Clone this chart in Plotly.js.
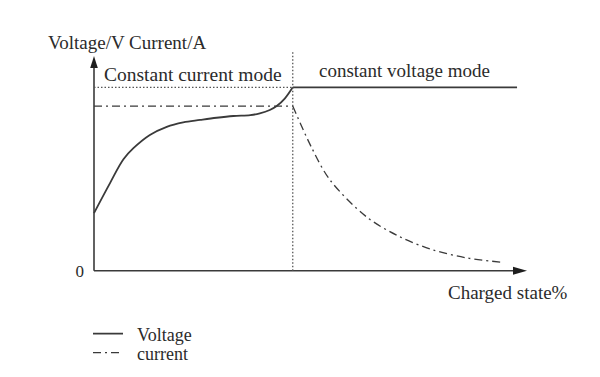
<!DOCTYPE html>
<html>
<head>
<meta charset="utf-8">
<script src="https://cdn.plot.ly/plotly-3.0.1.min.js"></script>
<style>html,body{margin:0;padding:0;background:#fff;}</style>
</head>
<body>
<div id="chart" style="width:600px;height:377px;"></div>
<script>
// ---- data (charged state % on x, relative level on y) ----
const voltageRiseX = [0, 3.7, 6.8, 9.1, 12.9, 16.8, 20.6, 24.5, 28.3, 32.2, 36.1, 38.3, 40.6, 42.2, 44.1, 45.9];
const voltageRiseY = [26.1, 39.7, 50.5, 55.5, 61.5, 65.2, 67.2, 68.3, 69.3, 70.1, 70.5, 71.3, 72.8, 74.6, 78.1, 83.1];
const voltageFlatX = [45.9, 97.7];
const voltageFlatY = [83.1, 83.1];
const currentFlatX = [0, 45.9];
const currentFlatY = [74.6, 74.6];
const currentDecayX = [45.9, 50.3, 54.5, 63.0, 70.7, 78.3, 86.1, 93.8];
const currentDecayY = [74.6, 55.6, 41.1, 24.3, 15.3, 9.4, 5.8, 3.9];
const switchX = 45.9;          // CC -> CV transition
const guideY = 83.1;           // voltage limit guide
const yTickVals = [0];
const yTickText = ['0'];
const seriesNames = ['Voltage', 'current'];

// ---- geometry helpers (pixel layout) ----
const L = 0, R = 600, T = 0, B = 377;             // plot area in px (whole canvas)
const X0 = 94, X100 = 527, Y0 = 270.7, Y100 = 50; // where data 0/100 fall
const xd = px => (px - X0) / (X100 - X0) * 100;
const yd = py => (Y0 - py) / (Y0 - Y100) * 100;
const xp = px => (px - L) / (R - L);
const yp = py => (B - py) / (B - T);

const FONT = 'Liberation Serif, Times New Roman, serif';
const INK = '#2b2b2b';
const LINE = '#3a3a3a';
const NB = '\u00a0\u00a0';

const traces = [
  {x: voltageRiseX, y: voltageRiseY, mode: 'lines', name: NB + seriesNames[0],
   legend: 'legend', legendgroup: 'v', line: {color: LINE, width: 1.8, shape: 'spline', smoothing: 1}},
  {x: voltageFlatX, y: voltageFlatY, mode: 'lines', name: seriesNames[0],
   legend: 'legend', legendgroup: 'v', showlegend: false, line: {color: LINE, width: 1.8}},
  {x: currentFlatX, y: currentFlatY, mode: 'lines', name: NB + seriesNames[1],
   legend: 'legend2', legendgroup: 'c', line: {color: LINE, width: 1.3, dash: '8px,4px,2px,4px'}},
  {x: currentDecayX, y: currentDecayY, mode: 'lines', name: seriesNames[1],
   legend: 'legend2', legendgroup: 'c', showlegend: false,
   line: {color: LINE, width: 1.3, dash: '8px,4px,2px,4px', shape: 'spline', smoothing: 0.9}}
];

const legendBase = {xanchor: 'left', yanchor: 'middle', bgcolor: 'rgba(0,0,0,0)',
                    borderwidth: 0, font: {family: FONT, size: 18, color: INK}};

const layout = {
  width: 600, height: 377,
  margin: {l: L, r: 600 - R, t: T, b: 377 - B, pad: 0},
  paper_bgcolor: '#fff', plot_bgcolor: '#fff',
  font: {family: FONT, color: INK, size: 17},
  showlegend: true,
  legend: Object.assign({x: xp(88), y: yp(334)}, legendBase),
  legend2: Object.assign({x: xp(88), y: yp(353)}, legendBase),
  xaxis: {range: [xd(L), xd(R)], showgrid: false, zeroline: false, showline: false,
          showticklabels: false, ticks: '', fixedrange: true},
  yaxis: {range: [yd(B), yd(T)], showgrid: false, zeroline: false, showline: false,
          anchor: 'free', position: xp(X0),
          tickvals: yTickVals, ticktext: yTickText, ticks: '', ticklabelstandoff: 10,
          tickfont: {family: FONT, size: 17, color: INK}, fixedrange: true},
  shapes: [
    // x axis line + arrowhead
    {type: 'line', xref: 'x', yref: 'y', x0: 0, y0: 0, x1: 98, y1: 0,
     line: {color: LINE, width: 1.6}},
    {type: 'path', xref: 'x', yref: 'y', xsizemode: 'pixel', ysizemode: 'pixel',
     xanchor: 100, yanchor: 0, path: 'M0,0 L-14,4 L-14,-4 Z',
     fillcolor: '#1e1e1e', line: {width: 0}},
    // y axis line + arrowhead
    {type: 'line', xref: 'x', yref: 'y', x0: 0, y0: 0, x1: 0, y1: yd(62),
     line: {color: LINE, width: 1.6}},
    {type: 'path', xref: 'x', yref: 'y', xsizemode: 'pixel', ysizemode: 'pixel',
     xanchor: 0, yanchor: yd(56), path: 'M0,0 L-3.8,-12 L3.8,-12 Z',
     fillcolor: '#1e1e1e', line: {width: 0}},
    // dotted guides
    {type: 'line', xref: 'x', yref: 'y', x0: switchX, y0: 0, x1: switchX, y1: yd(52),
     line: {color: '#555', width: 1.3, dash: '1.5px,2px'}},
    {type: 'line', xref: 'x', yref: 'y', x0: 0, y0: guideY, x1: switchX, y1: guideY,
     line: {color: '#555', width: 1.3, dash: '1.5px,2px'}}
  ],
  annotations: [
    {text: 'Voltage/V Current/A', xref: 'paper', yref: 'paper', x: xp(46), y: yp(42),
     xanchor: 'left', yanchor: 'middle', showarrow: false, font: {size: 19}},
    {text: 'Constant current mode', xref: 'paper', yref: 'paper', x: xp(102), y: yp(74),
     xanchor: 'left', yanchor: 'middle', showarrow: false, font: {size: 19.5}},
    {text: 'constant voltage mode', xref: 'paper', yref: 'paper', x: xp(317), y: yp(71),
     xanchor: 'left', yanchor: 'middle', showarrow: false, font: {size: 19}},
    {text: 'Charged state%', xref: 'paper', yref: 'paper', x: xp(446), y: yp(292),
     xanchor: 'left', yanchor: 'middle', showarrow: false, font: {size: 19}}
  ]
};

Plotly.newPlot('chart', traces, layout, {staticPlot: true, displayModeBar: false});
</script>
</body>
</html>
